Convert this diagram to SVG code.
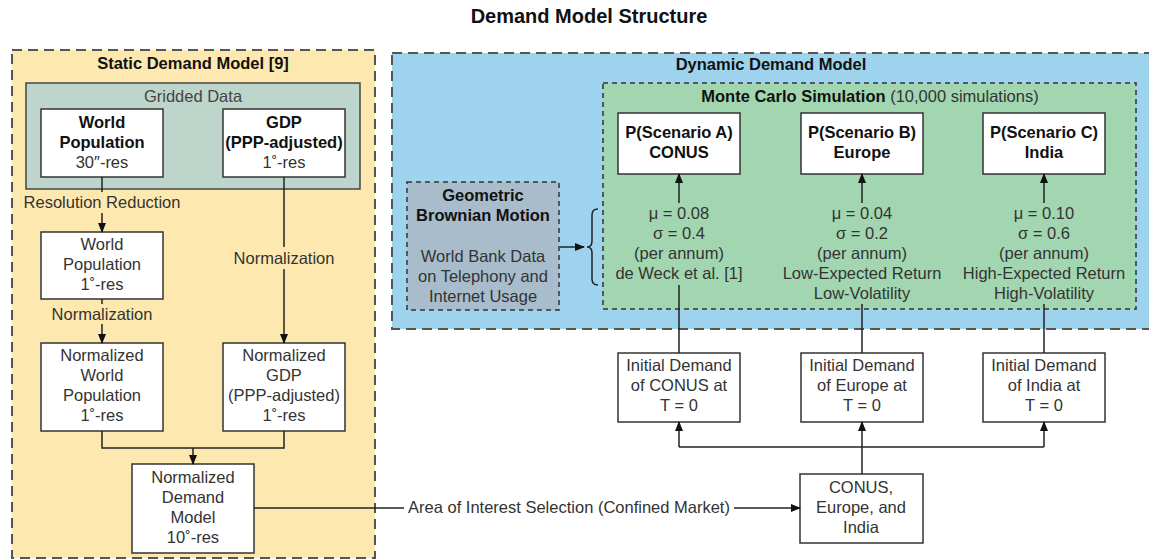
<svg xmlns="http://www.w3.org/2000/svg" width="1149" height="560" viewBox="0 0 1149 560">
<defs>
<marker id="ah" markerWidth="10" markerHeight="10" refX="9" refY="5" orient="auto" markerUnits="userSpaceOnUse"><path d="M0,1 L10,5 L0,9 Z" fill="#111"/></marker>
<style>
text{font-family:"Liberation Sans",Arial,sans-serif;font-size:16.5px;fill:#333;text-anchor:middle;dominant-baseline:central}
.b{font-weight:bold;fill:#111}
.box{fill:#fff;stroke:#333;stroke-width:1.5}
.ln{fill:none;stroke:#222;stroke-width:1.5}
.arr{marker-end:url(#ah)}
.outer{stroke:#555;stroke-width:2;stroke-dasharray:10 6}
.inner{stroke:#333;stroke-width:1.5;stroke-dasharray:5 4}
</style>
</defs>
<rect x="0" y="0" width="1149" height="560" fill="#fff"/>
<text x="589" y="16" class="b" style="font-size:20px">Demand Model Structure</text>

<g id="static-model">
<rect x="12" y="50" width="363" height="508" fill="#fde9b0" class="outer"/>
<text x="193" y="63" class="b">Static Demand Model [9]</text>
</g>
<g id="gridded-data">
<rect x="26" y="83" width="334" height="106" fill="#bed5cc" stroke="#444" stroke-width="1.5"/>
<text x="193" y="96" style="fill:#444">Gridded Data</text>
</g>
<g id="world-pop">
<rect x="41" y="109" width="122" height="68" class="box"/>
<text x="102" y="122" class="b">World</text>
<text x="102" y="142" class="b">Population</text>
<text x="102" y="162">30″-res</text>
</g>
<g id="gdp">
<rect x="223" y="109" width="122" height="68" class="box"/>
<text x="284" y="122" class="b">GDP</text>
<text x="284" y="142" class="b">(PPP-adjusted)</text>
<text x="284" y="162">1˚-res</text>
</g>
<g id="world-pop-1deg">
<rect x="41" y="232" width="122" height="67" class="box"/>
<text x="102" y="244">World</text>
<text x="102" y="264">Population</text>
<text x="102" y="284">1˚-res</text>
</g>
<g id="norm-world-pop">
<rect x="41" y="343" width="122" height="88" class="box"/>
<text x="102" y="355">Normalized</text>
<text x="102" y="375">World</text>
<text x="102" y="395">Population</text>
<text x="102" y="415">1˚-res</text>
</g>
<g id="norm-gdp">
<rect x="223" y="343" width="122" height="88" class="box"/>
<text x="284" y="355">Normalized</text>
<text x="284" y="375">GDP</text>
<text x="284" y="395">(PPP-adjusted)</text>
<text x="284" y="415">1˚-res</text>
</g>
<g id="norm-demand">
<rect x="132" y="464" width="122" height="89" class="box"/>
<text x="193" y="477">Normalized</text>
<text x="193" y="497">Demand</text>
<text x="193" y="517">Model</text>
<text x="193" y="537">10˚-res</text>
</g>

<g id="dynamic-model">
<rect x="392" y="53" width="770" height="276" fill="#9ed3ee" class="outer"/>
<text x="771" y="64" class="b">Dynamic Demand Model</text>
</g>
<g id="monte-carlo">
<rect x="603" y="83" width="533" height="226" fill="#a2d6b0" class="inner"/>
<text x="870" y="96"><tspan class="b">Monte Carlo Simulation</tspan> (10,000 simulations)</text>
</g>
<g id="gbm">
<rect x="407" y="182" width="152" height="128" fill="#a8bccc" class="inner"/>
<text x="483" y="195" class="b">Geometric</text>
<text x="483" y="215" class="b">Brownian Motion</text>
<text x="483" y="256">World Bank Data</text>
<text x="483" y="276">on Telephony and</text>
<text x="483" y="296">Internet Usage</text>
</g>
<g id="scenario-a">
<rect x="618" y="113" width="122" height="61" class="box"/>
<text x="679" y="132" class="b">P(Scenario A)</text>
<text x="679" y="152" class="b">CONUS</text>
</g>
<g id="scenario-b">
<rect x="801" y="113" width="122" height="61" class="box"/>
<text x="862" y="132" class="b">P(Scenario B)</text>
<text x="862" y="152" class="b">Europe</text>
</g>
<g id="scenario-c">
<rect x="983" y="113" width="122" height="61" class="box"/>
<text x="1044" y="132" class="b">P(Scenario C)</text>
<text x="1044" y="152" class="b">India</text>
</g>
<g id="params-a">
<text x="679" y="213">μ = 0.08</text>
<text x="679" y="233">σ = 0.4</text>
<text x="679" y="253">(per annum)</text>
<text x="679" y="273">de Weck et al. [1]</text>
</g>
<g id="params-b">
<text x="862" y="213">μ = 0.04</text>
<text x="862" y="233">σ = 0.2</text>
<text x="862" y="253">(per annum)</text>
<text x="862" y="273">Low-Expected Return</text>
<text x="862" y="293">Low-Volatility</text>
</g>
<g id="params-c">
<text x="1044" y="213">μ = 0.10</text>
<text x="1044" y="233">σ = 0.6</text>
<text x="1044" y="253">(per annum)</text>
<text x="1044" y="273">High-Expected Return</text>
<text x="1044" y="293">High-Volatility</text>
</g>
<g id="init-conus">
<rect x="618" y="353" width="122" height="69" class="box"/>
<text x="679" y="365">Initial Demand</text>
<text x="679" y="385">of CONUS at</text>
<text x="679" y="405">T = 0</text>
</g>
<g id="init-europe">
<rect x="801" y="353" width="122" height="69" class="box"/>
<text x="862" y="365">Initial Demand</text>
<text x="862" y="385">of Europe at</text>
<text x="862" y="405">T = 0</text>
</g>
<g id="init-india">
<rect x="983" y="353" width="122" height="69" class="box"/>
<text x="1044" y="365">Initial Demand</text>
<text x="1044" y="385">of India at</text>
<text x="1044" y="405">T = 0</text>
</g>
<g id="regions">
<rect x="800" y="474" width="123" height="69" class="box"/>
<text x="861" y="487">CONUS,</text>
<text x="861" y="507">Europe, and</text>
<text x="861" y="527">India</text>
</g>

<g id="connectors">
<path class="ln" d="M102,177 V192"/>
<text x="102" y="202">Resolution Reduction</text>
<path class="ln arr" d="M102,213 V232"/>
<path class="ln" d="M284,177 V247"/>
<text x="284" y="258">Normalization</text>
<path class="ln arr" d="M284,269 V343"/>
<path class="ln" d="M102,299 V304"/>
<text x="102" y="314">Normalization</text>
<path class="ln arr" d="M102,324 V343"/>
<path class="ln" d="M102,431 V448 H284 V431"/>
<path class="ln arr" d="M193,448 V464"/>
<path class="ln" d="M254,508 H404"/>
<text x="569" y="507">Area of Interest Selection (Confined Market)</text>
<path class="ln arr" d="M734,508 H800"/>
<path class="ln" d="M862,474 V447"/>
<path class="ln arr" d="M862,447 V422"/>
<path class="ln arr" d="M679,447 H679 V422"/>
<path class="ln" d="M679,447 H1044"/>
<path class="ln arr" d="M1044,447 V422"/>
<path class="ln" d="M679,353 V285"/>
<path class="ln" d="M862,353 V304"/>
<path class="ln" d="M1044,353 V304"/>
<path class="ln arr" d="M679,203 V174"/>
<path class="ln arr" d="M862,203 V174"/>
<path class="ln arr" d="M1044,203 V174"/>
<path class="ln arr" d="M560,247 H584"/>
<path class="ln" d="M598,209 Q592,209 592,215 V241 Q592,247 587,247 Q592,247 592,253 V279 Q592,285 598,285"/>
</g>
</svg>
